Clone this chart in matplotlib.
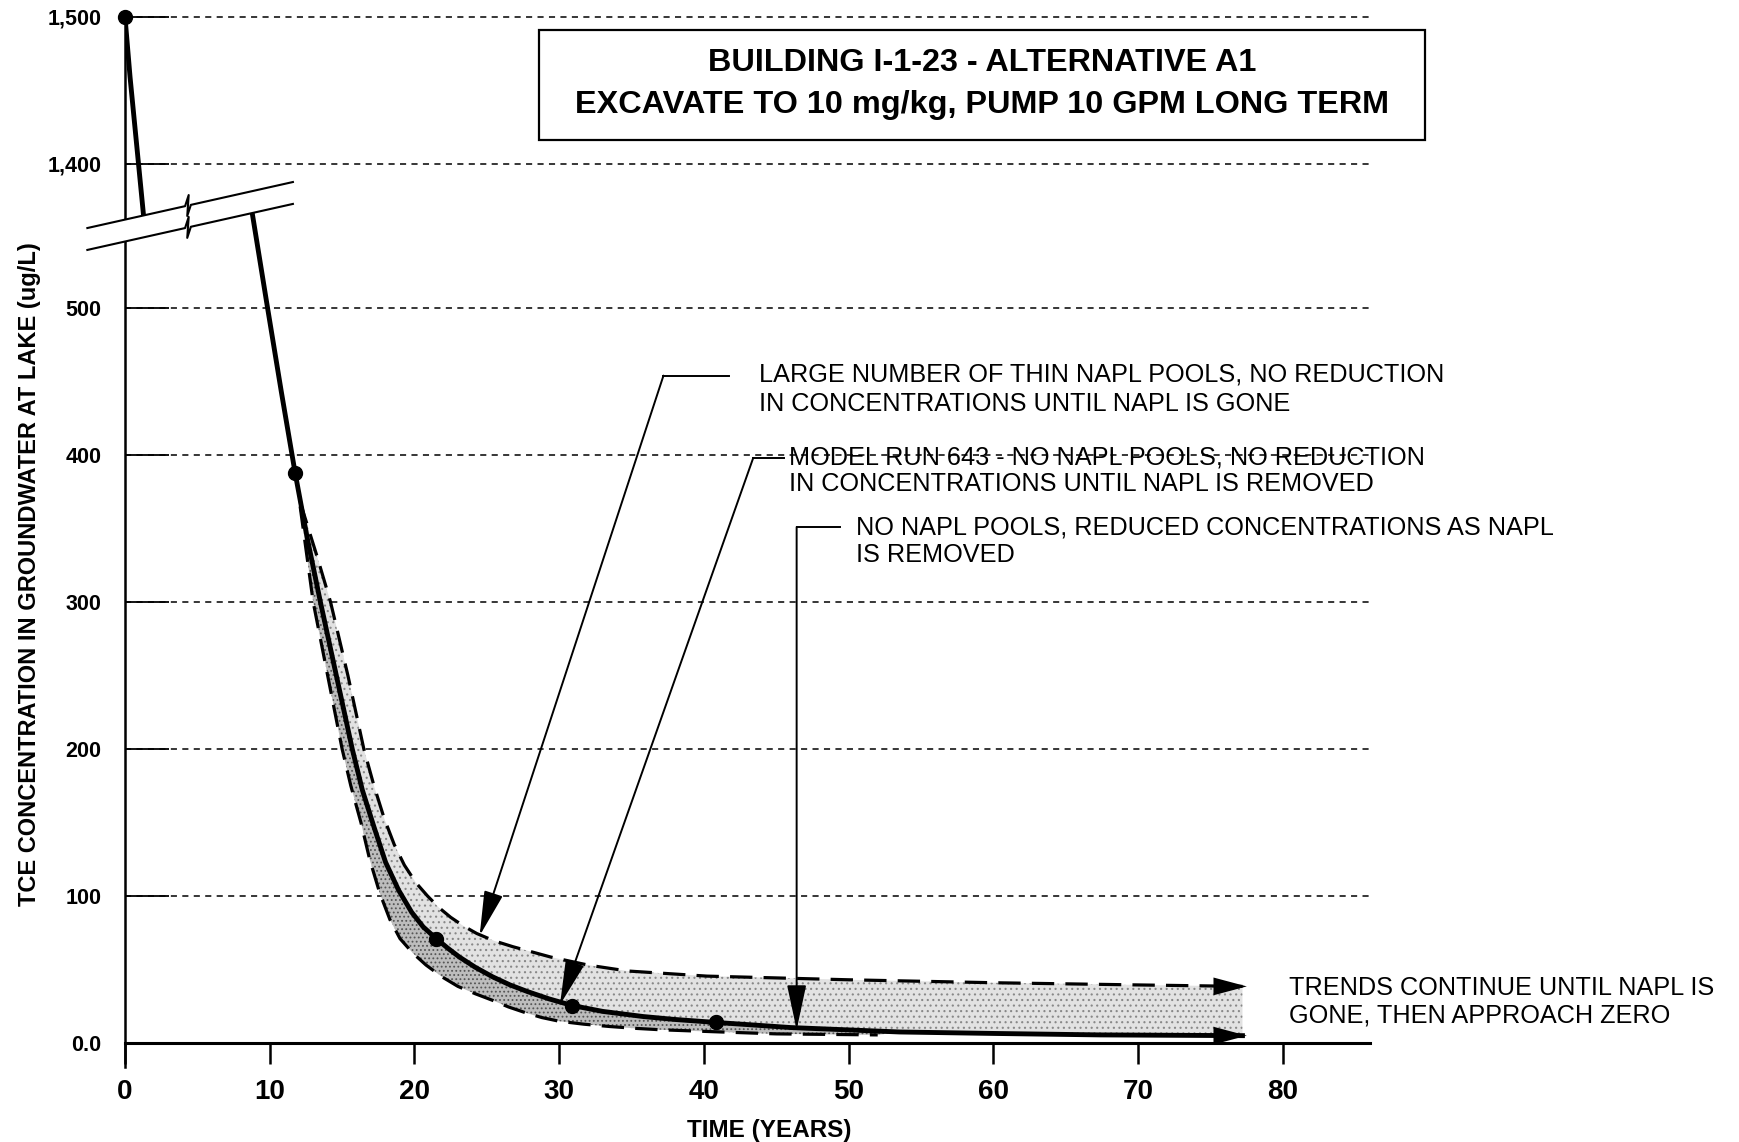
import numpy as np
import matplotlib
matplotlib.use('Agg')
import matplotlib.pyplot as plt
from matplotlib.patches import Rectangle, Polygon
from matplotlib import font_manager

# ---------------- data ----------------
year_ticks = [0, 10, 20, 30, 40, 50, 60, 70, 80]
conc_ticks = [0, 100, 200, 300, 400, 500, 1400, 1500]
conc_tick_labels = ['0.0', '100', '200', '300', '400', '500', '1,400', '1,500']

# Model run 643 (solid) - part above the axis break
run_top_t = [0.0, 0.35, 1.35]
run_top_c = [1500, 1459, 1358]
# Model run 643 (solid) - part below the axis break
run_t = [8.7, 9.8, 10.8, 11.75, 12.6, 13.5, 14.6, 15.7, 16.4, 17.2, 18.0, 18.9,
         19.8, 20.6, 21.5, 22.3, 23.1, 24.2, 25.4, 26.6, 27.8, 29.3, 30.9, 33.0,
         35.8, 38.0, 40.8, 46.0, 53.5, 60.0, 67.4, 77.2]
run_c = [570, 503, 443, 388, 343, 300, 250, 200, 172, 147, 123, 104,
         89, 79, 71, 64.5, 58.5, 51.5, 45, 39.5, 35, 30, 25.5, 21.5,
         18, 16, 14, 10.5, 7.5, 6.5, 5.5, 5.0]
dots_t = [0.0, 11.75, 21.5, 30.9, 40.8]
dots_c = [1500, 388, 71, 25.5, 14]

# Large number of thin NAPL pools (upper dashed)
upper_t = [12.1, 13.3, 14.2, 15.4, 16.5, 17.2, 17.9, 18.6, 19.3, 20.1, 20.9, 21.7,
           22.5, 23.4, 24.3, 25.5, 26.8, 28.1, 29.4, 32.0, 34.7, 40.2, 50.0, 60.0,
           70.0, 77.2]
upper_c = [368, 330, 300, 250, 200, 175, 153, 135, 121, 109, 100, 92,
           85.5, 79.5, 74.5, 69.5, 65.5, 62, 58.5, 53, 49, 45.5, 43, 41,
           39.5, 38.5]

# No NAPL pools, reduced concentrations (lower dashed)
lower_t = [12.1, 13.0, 14.0, 15.0, 15.6, 16.3, 16.9, 17.6, 18.3, 19.0, 19.9, 20.8,
           21.9, 23.0, 24.2, 25.4, 26.5, 27.7, 28.8, 30.0, 31.7, 33.5, 35.2, 37.0,
           40.6, 45.0, 52.0]
lower_c = [365, 300, 250, 200, 175, 150, 125, 102, 84, 71, 61, 53,
           45, 38.5, 33.5, 29, 24.5, 20.5, 17.3, 14.8, 12.8, 11.2, 10, 9,
           7.7, 6.2, 5.5]

# annotation leaders: (corner t, corner c), tip (t, c), end of horizontal stub
ann_corner_t = [37.2, 43.4, 46.4]
ann_corner_c = [454, 398, 351]
ann_tip_t = [24.5, 30.05, 46.4]
ann_tip_c = [73, 26, 9]
ann_stub_t = [41.7, 45.5, 49.4]

ann_texts = [
    ['LARGE NUMBER OF THIN NAPL POOLS, NO REDUCTION',
     'IN CONCENTRATIONS UNTIL NAPL IS GONE'],
    ['MODEL RUN 643 - NO NAPL POOLS, NO REDUCTION',
     'IN CONCENTRATIONS UNTIL NAPL IS REMOVED'],
    ['NO NAPL POOLS, REDUCED CONCENTRATIONS AS NAPL',
     'IS REMOVED'],
    ['TRENDS CONTINUE UNTIL NAPL IS',
     'GONE, THEN APPROACH ZERO'],
]
ann_text_t = [43.8, 45.9, 50.5, 80.4]
ann_text_c = [[455, 435], [398, 380], [351, 332], [37.4, 18.4]]

title_lines = ['BUILDING I-1-23 - ALTERNATIVE A1',
               'EXCAVATE TO 10 mg/kg, PUMP 10 GPM LONG TERM']

# ---------------- fonts ----------------
names = {f.name for f in font_manager.fontManager.ttflist}
narrow = 'Liberation Sans Narrow' if 'Liberation Sans Narrow' in names else 'Liberation Sans'
plt.rcParams['font.family'] = [narrow, 'DejaVu Sans']
plt.rcParams['font.weight'] = 'bold'
plt.rcParams['hatch.linewidth'] = 0.8

BREAK_OFFSET = 802


def f(v):
    v = np.asarray(v, dtype=float)
    return np.where(v > 1000, v - BREAK_OFFSET, v)


W, H = 1739, 1142
fig = plt.figure(figsize=(W / 100, H / 100), dpi=100)
px_per_year = 14.475
px_per_unit = 1.47
x0_px, y0_px = 125, 1043
ymin, ymax = -16, 702
xmax = 86
ax_left = x0_px / W
ax_w = xmax * px_per_year / W
ax_bot_px = y0_px - ymin * px_per_unit
ax_top_px = y0_px - ymax * px_per_unit
ax = fig.add_axes([ax_left, 1 - ax_bot_px / H, ax_w, (ax_bot_px - ax_top_px) / H])
ax.set_xlim(0, xmax)
ax.set_ylim(ymin, ymax)

for s in ['top', 'right']:
    ax.spines[s].set_visible(False)
ax.spines['bottom'].set_position(('data', 0))
ax.spines['bottom'].set_linewidth(2.2)
ax.spines['left'].set_linewidth(1.8)
ax.spines['left'].set_bounds(ymin, f(1500))

ax.set_xticks(year_ticks)
ax.set_xticklabels([str(v) for v in year_ticks])
ax.set_yticks(f(conc_ticks))
ax.set_yticklabels(conc_tick_labels)
ax.tick_params(axis='x', direction='out', length=15, width=1.8, pad=11, labelsize=20)
ax.tick_params(axis='y', direction='in', length=32, width=1.3, pad=17, labelsize=15.5)
ax.grid(axis='y', linestyle=(0, (4, 3.5)), linewidth=1.1, color='black', zorder=0)
ax.set_axisbelow(True)

# ----- stippled bands -----
run_t_a = np.array(run_t)
run_c_a = np.array(run_c)
mask_l = (run_t_a >= lower_t[0]) & (run_t_a <= lower_t[-1] + 2)
poly_lt = np.concatenate([lower_t, run_t_a[mask_l][::-1]])
poly_lc = np.concatenate([lower_c, run_c_a[mask_l][::-1]])
ax.fill(poly_lt, f(poly_lc), facecolor='#bdbdbd', edgecolor='#555555', hatch='....',
        linewidth=0, zorder=1)
mask_u = run_t_a >= upper_t[0]
poly_ut = np.concatenate([upper_t, run_t_a[mask_u][::-1]])
poly_uc = np.concatenate([upper_c, run_c_a[mask_u][::-1]])
ax.fill(poly_ut, f(poly_uc), facecolor='#e2e2e2', edgecolor='#888888', hatch='...',
        linewidth=0, zorder=1)

# ----- curves -----
dash = (0, (7, 3.5))
ax.plot(upper_t, f(upper_c), color='black', lw=2.3, ls=dash, zorder=2)
ax.plot(lower_t, f(lower_c), color='black', lw=2.3, ls=dash, zorder=2)
ax.plot(run_top_t, f(run_top_c), color='black', lw=3.5, solid_capstyle='butt', zorder=3)
ax.plot(run_t, f(run_c), color='black', lw=3.5, zorder=3)
ax.plot(dots_t, f(dots_c), 'o', color='black', ms=10, zorder=6, clip_on=False)

# end arrows
for tt, cc in [(run_t[-1], run_c[-1]), (upper_t[-1], upper_c[-1])]:
    ax.annotate('', xy=(tt + 0.3, f(cc)), xytext=(tt - 1.5, f(cc)),
                arrowprops=dict(arrowstyle='-|>,head_length=1.2,head_width=0.32',
                                mutation_scale=20, color='black', lw=0,
                                shrinkA=0, shrinkB=0), zorder=4)

# ----- axis break marker -----
bt0, bt1 = -2.6, 11.6
b_up0, b_lo0 = 554.4, 539.5
b_slope = 31.3 / 14.2
zig_t = 4.35


def break_line(base):
    ts = [bt0, zig_t - 0.2, zig_t + 0.05, zig_t - 0.05, zig_t + 0.2, bt1]
    dy = [0, 0, 7, -7, 0, 0]
    ys = [base + (t - bt0) * b_slope + d for t, d in zip(ts, dy)]
    return ts, ys


pt_u, py_u = break_line(b_up0)
pt_l, py_l = break_line(b_lo0)
gap = Polygon([[bt0, b_up0], [bt1, b_up0 + (bt1 - bt0) * b_slope],
               [bt1, b_lo0 + (bt1 - bt0) * b_slope], [bt0, b_lo0]],
              closed=True, facecolor='white', edgecolor='none', zorder=5, clip_on=False)
ax.add_patch(gap)
ax.plot(pt_u, py_u, color='black', lw=1.5, zorder=6, clip_on=False)
ax.plot(pt_l, py_l, color='black', lw=1.5, zorder=6, clip_on=False)

# ----- annotation leaders -----
for i in range(3):
    ax.plot([ann_corner_t[i], ann_stub_t[i]], [ann_corner_c[i], ann_corner_c[i]],
            color='black', lw=1.4, zorder=4)
    ax.annotate('', xy=(ann_tip_t[i], ann_tip_c[i]),
                xytext=(ann_corner_t[i], ann_corner_c[i]),
                arrowprops=dict(arrowstyle='-|>,head_length=1.4,head_width=0.3',
                                mutation_scale=20, color='black', lw=1.4,
                                shrinkA=0, shrinkB=0), zorder=4)

for lines, tx, cys in zip(ann_texts, ann_text_t, ann_text_c):
    for ln, cy in zip(lines, cys):
        ax.text(tx, cy, ln, ha='left', va='center', fontsize=18.2, fontweight='normal',
                family=['Liberation Sans', 'DejaVu Sans'], clip_on=False, zorder=7)

# ----- labels -----
ax.set_xlabel('TIME (YEARS)', fontsize=17.5, fontweight='bold')
ax.xaxis.set_label_coords(44.5 / xmax, (ax_bot_px - 1131) / (ax_bot_px - ax_top_px))
ax.xaxis.label.set_va('center')
ax.set_ylabel('TCE CONCENTRATION IN GROUNDWATER AT LAKE (ug/L)', fontsize=17, fontweight='bold')
ax.yaxis.set_label_coords((30 - x0_px) / (xmax * px_per_year),
                          (ax_bot_px - 574) / (ax_bot_px - ax_top_px))
ax.yaxis.label.set_va('center')

# ----- title box -----
bx0, bx1, by0, by1 = 539, 1425, 30, 140
fig.patches.append(Rectangle((bx0 / W, 1 - by1 / H), (bx1 - bx0) / W, (by1 - by0) / H,
                             transform=fig.transFigure, facecolor='white',
                             edgecolor='black', lw=1.6, zorder=10))
cx = (bx0 + bx1) / 2 / W
fig.text(cx, 1 - 63 / H, title_lines[0], ha='center', va='center', fontsize=23.3,
         fontweight='bold', zorder=11)
fig.text(cx, 1 - 105 / H, title_lines[1], ha='center', va='center', fontsize=23.3,
         fontweight='bold', zorder=11)

fig.savefig('out.png', dpi=100)
